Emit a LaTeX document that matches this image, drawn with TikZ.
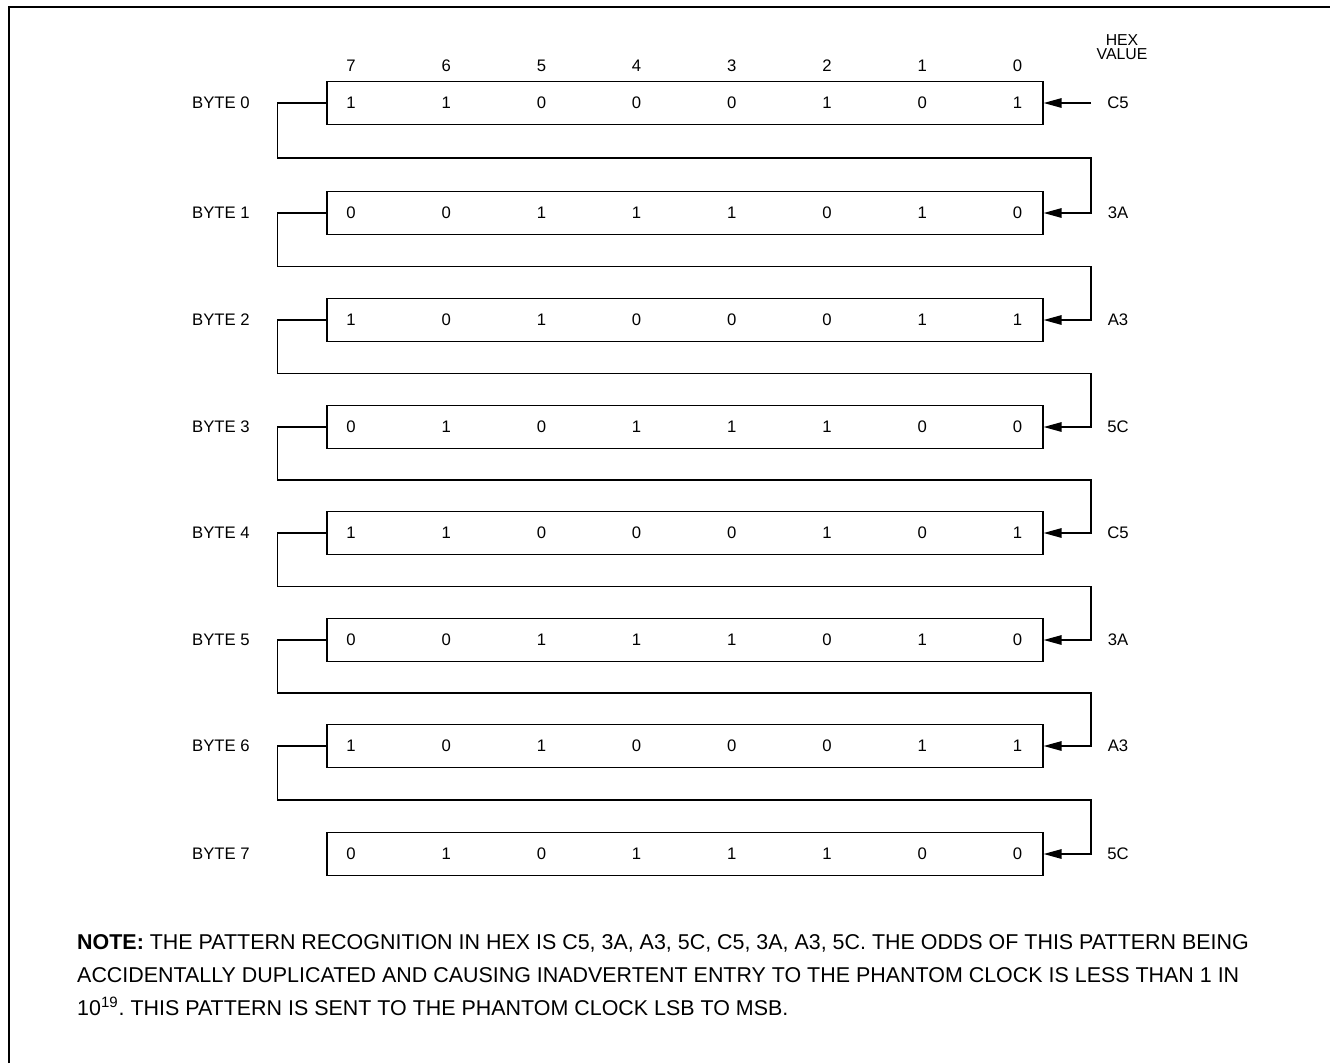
\documentclass[tikz,border=0pt]{standalone}
\usepackage{fontspec}
\setmainfont{Liberation Sans}
\usetikzlibrary{arrows.meta,calc}
\frenchspacing

\begin{document}
\begin{tikzpicture}[x=0.02cm,y=-0.02cm,
  wire/.style={line width=0.8pt},
  arr/.style={wire,-{Triangle[length=0.36cm,width=0.19cm]}},
  bytebox/.style={draw,line width=0.8pt,minimum width=14.32cm,minimum height=0.86cm,inner sep=0pt},
  lbl/.style={font=\fontsize{9.5}{11}\selectfont}]
\useasboundingbox (0,0) rectangle (1330,1063);
\draw[line width=1.2pt] (9,1063) -- (9,7) -- (1330,7);
% bit numbers and hex header
\foreach \k [evaluate=\k as \n using int(7-\k)] in {0,...,7}
  \node[lbl] (c\k) at (351+95.2*\k,66) {\n};
\node[align=center,font=\fontsize{9}{7.8}\selectfont] (hexv) at (1122,47) {HEX\\VALUE};
% the eight bytes
\foreach \y/\bits/\hx [count=\i from 0] in {103/{1,1,0,0,0,1,0,1}/C5,
    213/{0,0,1,1,1,0,1,0}/3A, 320/{1,0,1,0,0,0,1,1}/A3, 427/{0,1,0,1,1,1,0,0}/5C,
    533/{1,1,0,0,0,1,0,1}/C5, 640/{0,0,1,1,1,0,1,0}/3A, 746/{1,0,1,0,0,0,1,1}/A3,
    854/{0,1,0,1,1,1,0,0}/5C}{
  \node[bytebox] (b\i) at (685,\y) {};
  \node[lbl,anchor=west] (n\i) at (186,\y) {BYTE \i};
  \node[lbl] (h\i) at (1118,\y) {\hx};
  \coordinate (t\i) at (1091,\y);
  \foreach \v [count=\k from 0] in \bits
    \node[lbl] (v\i\k) at (351+95.2*\k,\y) {\v};
}
\draw[arr] (t0) -- (b0.east);
% wrap-around links
\foreach \i [evaluate=\i as \j using int(\i+1)] in {0,...,6}
  \draw[arr] (b\i.west) -- ++(-49,0) |- ($(b\i)!.5!(b\j)$) -| (t\j) -- (b\j.east);
% note
\node[anchor=north west,align=left,font=\fontsize{12.2}{18.8}\selectfont] (note) at (71,928)
  {\textbf{NOTE:} THE PATTERN RECOGNITION IN HEX IS C5, 3A, A3, 5C, C5, 3A, A3, 5C. THE ODDS OF THIS PATTERN BEING\\
   ACCIDENTALLY DUPLICATED AND CAUSING INADVERTENT ENTRY TO THE PHANTOM CLOCK IS LESS THAN 1 IN\\
   10\textsuperscript{19}. THIS PATTERN IS SENT TO THE PHANTOM CLOCK LSB TO MSB.};
\end{tikzpicture}
\end{document}
